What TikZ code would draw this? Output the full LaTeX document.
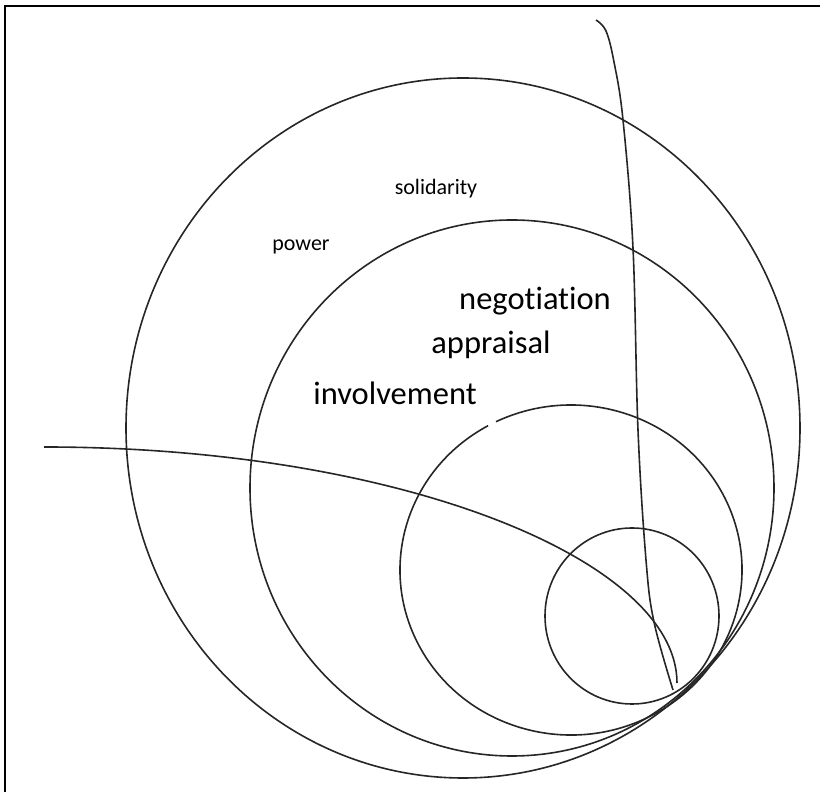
\documentclass[tikz,border=0pt]{standalone}
\usepackage{fontspec}
\setmainfont{Carlito}[Ligatures=NoCommon]
\begin{document}
\begin{tikzpicture}[x=1pt, y=1pt,
  ring/.style={black!85, line width = 1.6pt},
  bigword/.style={anchor=base, inner sep=0pt, font=\fontsize{32.5}{38}\selectfont},
  smallword/.style={anchor=base, inner sep=0pt, font=\fontsize{22}{26}\selectfont}]
\useasboundingbox (0,0) rectangle (820,792);
\draw[black, line width = 2pt] (820,786) -- (5,786) -- (5,0);
% rings, all touching at the lower right
\draw[ring] (463,364) ellipse [x radius=337, y radius=350];
\draw[ring] (512,304) ellipse [x radius=262, y radius=268];
\draw[ring] (488.1,366.3) arc [start angle=119, end angle=476, x radius=171, y radius=165];
\draw[ring] (632,176) ellipse [x radius=87, y radius=88];
% the two long curves
\coordinate (hstart) at (44,345);
\coordinate (hend) at (677,109);
\coordinate (vstart) at (596,772);
\coordinate (vend) at (673,102);
\draw[ring] (hstart) .. controls (400,345) and (677,232) .. (hend);
\draw[ring] plot[smooth, tension=0.6] coordinates {(vstart) (606,761) (614,730) (623,672) (633,544) (638,362) (646,232) (654,170) (vend)};
% words
\node[smallword] (solidarity) at (436,597) {solidarity};
\node[smallword] (power) at (301,541) {power};
\node[bigword] (negotiation) at (535,482) {negotiation};
\node[bigword] (appraisal) at (491,438) {appraisal};
\node[bigword] (involvement) at (395,387) {involvement};
\end{tikzpicture}
\end{document}
